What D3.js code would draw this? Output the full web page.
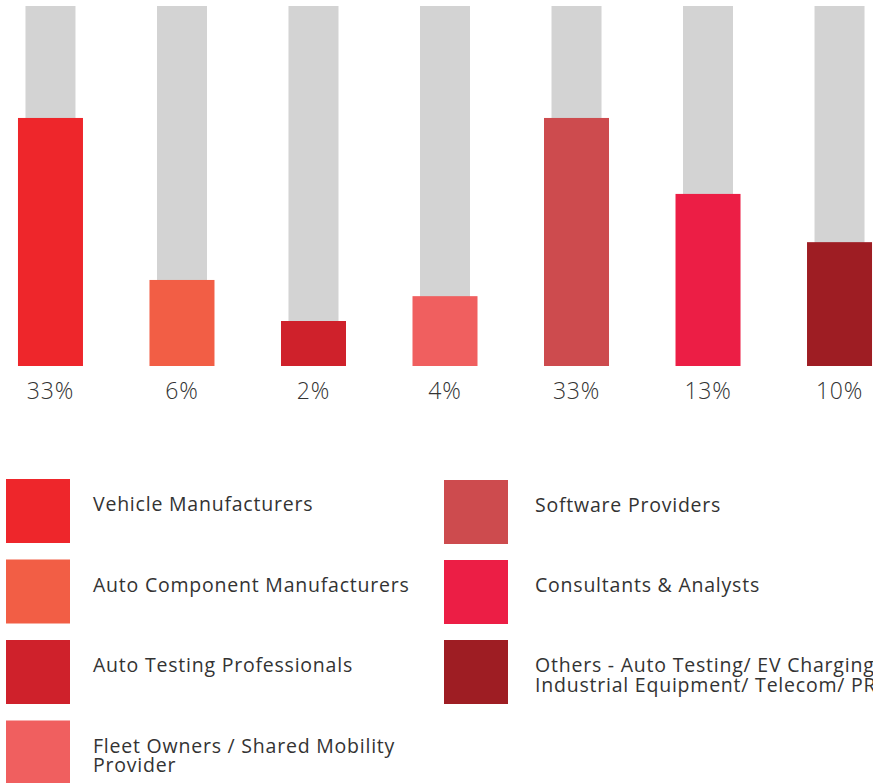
<!DOCTYPE html>
<html><head><meta charset="utf-8">
<script src="https://cdn.jsdelivr.net/npm/d3@7"></script>
<style>body{margin:0;background:#fff;overflow:hidden}svg{display:block}</style>
</head><body><svg id="c" width="873" height="783"></svg>
<script>
const categories = ["Vehicle Manufacturers","Auto Component Manufacturers","Auto Testing Professionals","Fleet Owners / Shared Mobility Provider","Software Providers","Consultants & Analysts","Others - Auto Testing/ EV Charging/ Industrial Equipment/ Telecom/ PR"];
const legendLines = [["Vehicle Manufacturers"],["Auto Component Manufacturers"],["Auto Testing Professionals"],["Fleet Owners / Shared Mobility","Provider"],["Software Providers"],["Consultants & Analysts"],["Others - Auto Testing/ EV Charging/","Industrial Equipment/ Telecom/ PR"]];
const shares = [33, 6, 2, 4, 33, 13, 10];
// visual fill level of each bar, as % of the grey track
const fillLevel = [68.9, 23.9, 12.5, 19.4, 68.9, 47.8, 34.4];
const colors = ["#ee262b","#f25e45","#cf212b","#f05f5f","#cd4b4e","#ec1e45","#9e1d23"];

const svg = d3.select("#c");
const x = d3.scaleBand().domain(categories).range([17.6, 872.4]).paddingInner(0.5).paddingOuter(0);
const y = d3.scaleLinear().domain([0,100]).range([366, 6]);
const cx = d => x(d) + x.bandwidth()/2;

svg.append("g").selectAll("rect").data(categories).join("rect")
  .attr("x", d => cx(d) - 25).attr("width", 50)
  .attr("y", y(100)).attr("height", y(0) - y(100)).attr("fill", "#d3d3d3");

svg.append("g").selectAll("rect").data(categories).join("rect")
  .attr("x", d => cx(d) - 32.5).attr("width", 65)
  .attr("y", (d,i) => y(fillLevel[i])).attr("height", (d,i) => y(0) - y(fillLevel[i]))
  .attr("fill", (d,i) => colors[i]);

svg.append("g").selectAll("text").data(categories).join("text")
  .attr("x", d => cx(d)).attr("y", 399).attr("text-anchor","middle")
  .attr("font-family","Open Sans").attr("font-weight",300).attr("font-size",23)
  .attr("letter-spacing",0.8)
  .attr("fill","#333").text((d,i) => shares[i] + "%");

const lg = svg.append("g").selectAll("g").data(categories).join("g")
  .attr("transform", (d,i) => i < 4 ? `translate(6,${479 + i*80.5})` : `translate(444,${480 + (i-4)*80})`);
lg.append("rect").attr("width",64).attr("height",64).attr("fill",(d,i)=>colors[i]);
lg.each(function(d,i){
  const t = d3.select(this).append("text").attr("font-family","Open Sans").attr("font-size",19.5)
    .attr("letter-spacing",0.78).attr("fill","#333");
  legendLines[i].forEach((ln,k)=>{
    t.append("tspan").attr("x", i<4 ? 87 : 91).attr("y", 32 + k*19.5).text(ln);
  });
});
</script></body></html>
